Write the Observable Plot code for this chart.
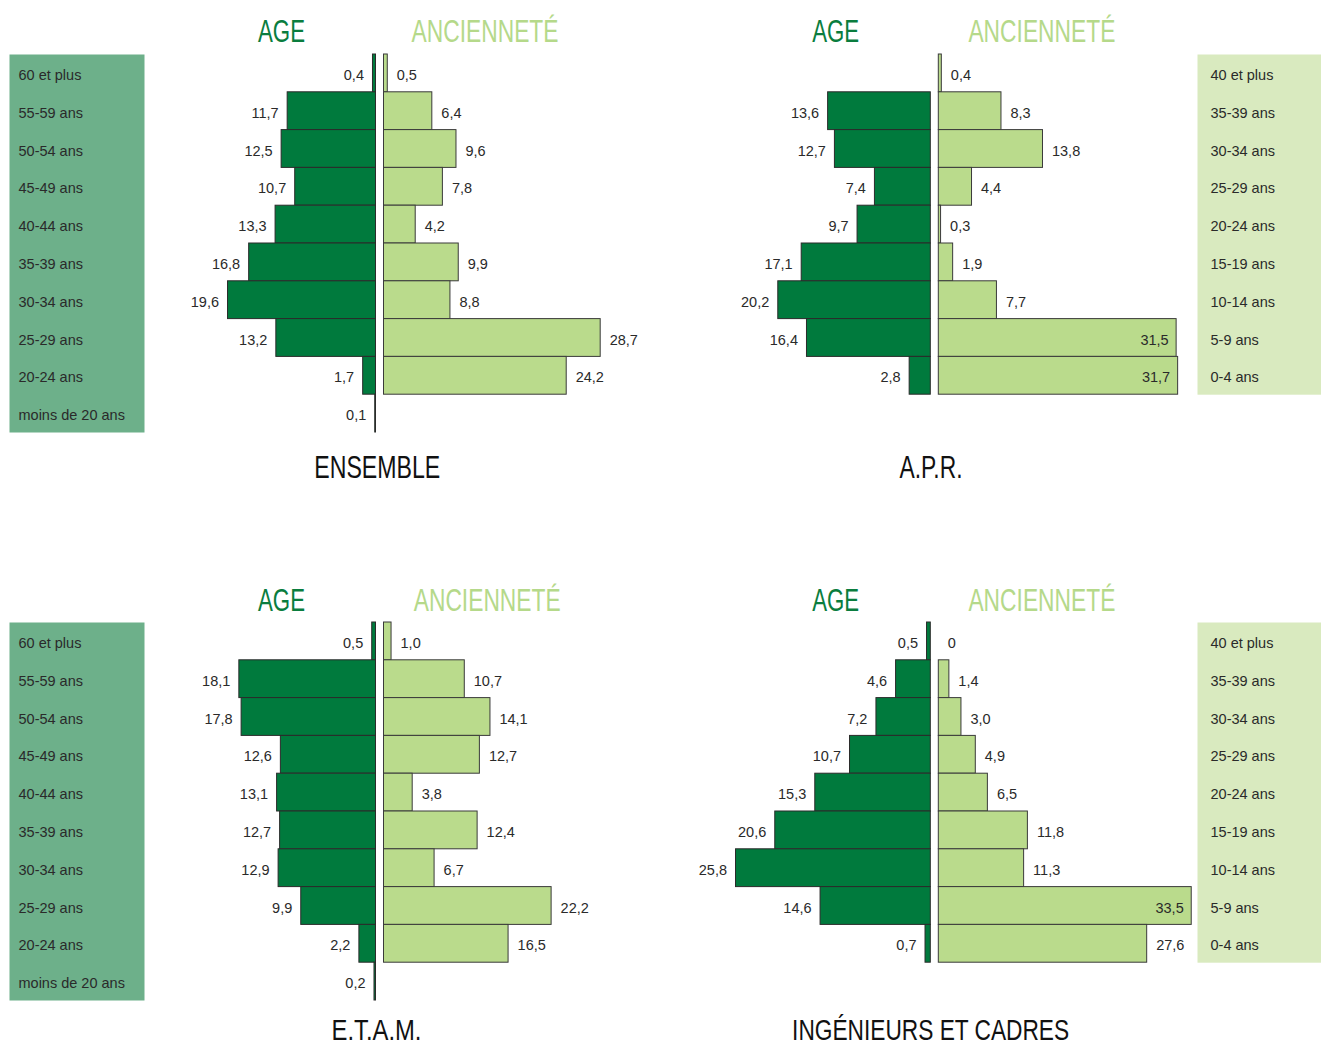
<!DOCTYPE html>
<html>
<head>
<meta charset="utf-8">
<script src="https://cdn.jsdelivr.net/npm/d3@7"></script>
<script src="https://cdn.jsdelivr.net/npm/@observablehq/plot@0.6"></script>
<style>
  html, body { margin: 0; padding: 0; background: #fff; }
  #root { position: relative; width: 1321px; height: 1046px; overflow: hidden; }
  .cell { position: absolute; }
</style>
</head>
<body>
<div id="root"></div>
<script>
// ---------- DATA ----------
const ageCategories = ["60 et plus", "55-59 ans", "50-54 ans", "45-49 ans", "40-44 ans",
  "35-39 ans", "30-34 ans", "25-29 ans", "20-24 ans", "moins de 20 ans"];
const seniorityCategories = ["40 et plus", "35-39 ans", "30-34 ans", "25-29 ans", "20-24 ans",
  "15-19 ans", "10-14 ans", "5-9 ans", "0-4 ans"];

const ensembleAge = [0.4, 11.7, 12.5, 10.7, 13.3, 16.8, 19.6, 13.2, 1.7, 0.1];
const ensembleSeniority = [0.5, 6.4, 9.6, 7.8, 4.2, 9.9, 8.8, 28.7, 24.2];

const aprAge = [null, 13.6, 12.7, 7.4, 9.7, 17.1, 20.2, 16.4, 2.8, null];
const aprSeniority = [0.4, 8.3, 13.8, 4.4, 0.3, 1.9, 7.7, 31.5, 31.7];

const etamAge = [0.5, 18.1, 17.8, 12.6, 13.1, 12.7, 12.9, 9.9, 2.2, 0.2];
const etamSeniority = [1.0, 10.7, 14.1, 12.7, 3.8, 12.4, 6.7, 22.2, 16.5];

const icAge = [0.5, 4.6, 7.2, 10.7, 15.3, 20.6, 25.8, 14.6, 0.7, null];
const icSeniority = [0, 1.4, 3.0, 4.9, 6.5, 11.8, 11.3, 33.5, 27.6];

const headingAge = "AGE";
const headingSeniority = "ANCIENNETÉ";
const panelTitles = ["ENSEMBLE", "A.P.R.", "E.T.A.M.", "INGÉNIEURS ET CADRES"];

// ---------- STYLE ----------
const DARK = "#007a3d";
const LIGHT = "#badb8c";
const BOX_AGE = "#6db08a";
const BOX_SEN = "#d9eabf";
const HEAD_AGE = "#0a7d3e";
const HEAD_SEN = "#b5d98a";
const TXT = "#2a2a2a";
const PX = 7.55;      // pixels per percentage point
const GAP = 8;        // gap between age and seniority baselines
const ROWS_H = 378;   // height of 10 rows
const TOP = 54;
const TDY = 2;        // small downward shift of row texts

const fmt = v => v === 0 ? "0" : v.toFixed(1).replace(".", ",");

function panel(o) {
  const {width, height, age0, side, ageVals, senVals, title, headAgeX, headSenX, headDy, titleDy, titleSize} = o;
  const ageData = ageVals.map((v, i) => ({row: i, v})).filter(d => d.v != null);
  const senData = senVals.map((v, i) => ({row: i, v}));
  const insideLimit = side === "right" ? 30 : Infinity;
  const condensed = {fontFamily: "'Liberation Sans Narrow','Liberation Sans',Arial,sans-serif"};

  const marks = [];
  if (side === "left") {
    marks.push(Plot.frame({fill: BOX_AGE, stroke: null, insetLeft: 9, insetRight: width - 144}));
    marks.push(Plot.text(ageCategories, {y: (d, i) => i, text: d => d, frameAnchor: "left", dx: 18, dy: TDY,
      textAnchor: "start", fill: TXT, fontSize: 14.5}));
  } else {
    marks.push(Plot.frame({fill: BOX_SEN, stroke: null, insetLeft: width - 124, insetRight: 0, insetBottom: ROWS_H / 10}));
    marks.push(Plot.text(seniorityCategories, {y: (d, i) => i, text: d => d, frameAnchor: "right", dx: -111, dy: TDY,
      textAnchor: "start", fill: TXT, fontSize: 14.5}));
  }
  marks.push(
    Plot.barX(ageData, {x1: 0, x2: d => -d.v, y: "row", fill: DARK, stroke: "#2b2b2b", strokeWidth: 1}),
    Plot.barX(senData.filter(d => d.v > 0), {x1: 0, x2: "v", y: "row", dx: GAP, fill: LIGHT, stroke: "#3a3a3a", strokeWidth: 1}),
    Plot.text(ageData, {x: d => -d.v, y: "row", text: d => fmt(d.v), textAnchor: "end", dx: -9, dy: TDY, fill: TXT, fontSize: 14.5}),
    Plot.text(senData.filter(d => d.v <= insideLimit), {x: "v", y: "row", text: d => fmt(d.v), textAnchor: "start", dx: GAP + 9, dy: TDY, fill: TXT, fontSize: 14.5}),
    Plot.text(senData.filter(d => d.v > insideLimit), {x: "v", y: "row", text: d => fmt(d.v), textAnchor: "end", dx: GAP - 8, dy: TDY, fill: TXT, fontSize: 14.5}),
    Plot.text([headingAge], {text: d => d, frameAnchor: "top-left", dx: headAgeX, dy: headDy, lineAnchor: "bottom",
      textAnchor: "middle", fill: HEAD_AGE, fontSize: 31, ariaDescription: "stretch-47", ...condensed}),
    Plot.text([headingSeniority], {text: d => d, frameAnchor: "top-left", dx: headSenX, dy: headDy, lineAnchor: "bottom",
      textAnchor: "middle", fill: HEAD_SEN, fontSize: 31, ariaDescription: "stretch-147", ...condensed}),
    Plot.text([title.text], {text: d => d, frameAnchor: "bottom-left", dx: title.x, dy: titleDy, lineAnchor: "bottom",
      textAnchor: "middle", fill: "#111", fontSize: titleSize, ariaDescription: "stretch-" + title.w, ...condensed})
  );

  const svg = Plot.plot({
    width, height,
    marginTop: TOP, marginBottom: height - TOP - ROWS_H, marginLeft: 0, marginRight: 0,
    style: {fontFamily: "'Liberation Sans',Arial,sans-serif", fontSize: "14.5px", background: "transparent", overflow: "visible"},
    x: {domain: [-age0 / PX, (width - age0) / PX], range: [0, width], axis: null},
    y: {type: "band", domain: d3.range(10), padding: 0, round: false, axis: null},
    marks
  });
  svg.querySelectorAll('g[aria-description^="stretch-"]').forEach(g => {
    const w = +g.getAttribute("aria-description").slice(8);
    g.querySelectorAll("text").forEach(t => {
      t.setAttribute("textLength", w);
      t.setAttribute("lengthAdjust", "spacingAndGlyphs");
    });
  });
  return svg;
}

const root = document.getElementById("root");
function place(el, left, top) {
  const d = document.createElement("div");
  d.className = "cell";
  d.style.left = left + "px";
  d.style.top = top + "px";
  d.appendChild(el);
  root.appendChild(d);
}

place(panel({width: 660, height: 568, age0: 375.5, side: "left", ageVals: ensembleAge, senVals: ensembleSeniority,
  title: {text: panelTitles[0], x: 376.8, w: 126}, headAgeX: 281, headSenX: 484.5, headDy: -12.3, titleDy: 45, titleSize: 31}), 0, 0);
place(panel({width: 661, height: 568, age0: 270.3, side: "right", ageVals: aprAge, senVals: aprSeniority,
  title: {text: panelTitles[1], x: 270.5, w: 63}, headAgeX: 175.2, headSenX: 381.4, headDy: -12.3, titleDy: 45, titleSize: 31}), 660, 0);
place(panel({width: 660, height: 478, age0: 375.5, side: "left", ageVals: etamAge, senVals: etamSeniority,
  title: {text: panelTitles[2], x: 376, w: 90}, headAgeX: 281, headSenX: 486.7, headDy: -12, titleDy: 39.5, titleSize: 30}), 0, 568);
place(panel({width: 661, height: 478, age0: 270.3, side: "right", ageVals: icAge, senVals: icSeniority,
  title: {text: panelTitles[3], x: 270.1, w: 277}, headAgeX: 175.2, headSenX: 381.4, headDy: -12, titleDy: 39.5, titleSize: 30}), 660, 568);
</script>
</body>
</html>
